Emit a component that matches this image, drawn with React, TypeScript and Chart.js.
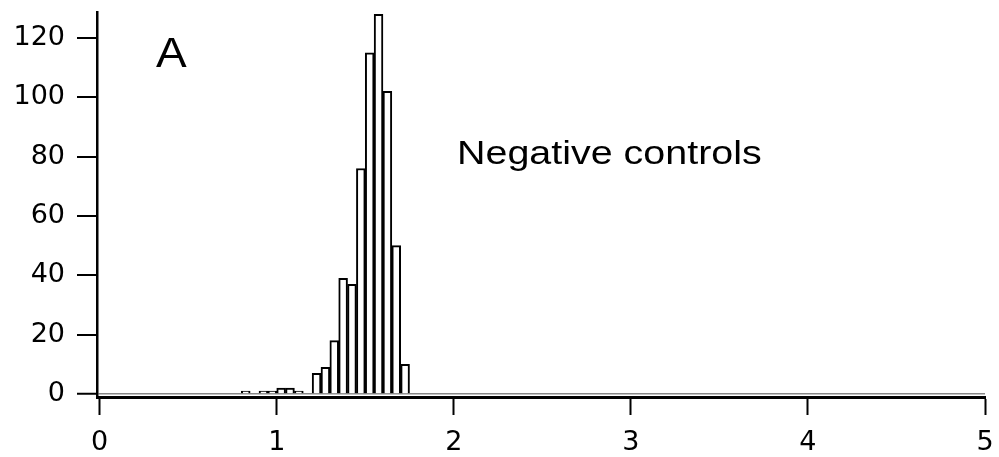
import React, { useEffect, useRef } from "react";
import { Chart, registerables } from "chart.js";

Chart.register(...registerables);

// Histogram bins (left edge of each 0.05-wide bin) and counts
const binStarts = [0.8, 0.85, 0.9, 0.95, 1.0, 1.05, 1.1, 1.15, 1.2, 1.25, 1.3, 1.35, 1.4, 1.45, 1.5, 1.55, 1.6, 1.65, 1.7];
const counts = [1, 0, 1, 1, 2, 2, 1, 0, 7, 9, 18, 39, 37, 76, 115, 128, 102, 50, 10];
const binWidth = 0.05;

const xTickValues = [0, 1, 2, 3, 4, 5];
const yTickValues = [0, 20, 40, 60, 80, 100, 120];

const panelLabel = "A";
const annotationText = "Negative controls";

const textPlugin = {
  id: "annotText",
  afterDraw(chart: any) {
    const ctx = chart.ctx;
    ctx.save();
    ctx.fillStyle = "#000";
    ctx.textBaseline = "alphabetic";
    ctx.textAlign = "left";
    ctx.save();
    ctx.translate(156, 67);
    ctx.scale(1.07, 1);
    ctx.font = "43px 'Liberation Sans', Arial, sans-serif";
    ctx.fillText(panelLabel, 0, 0);
    ctx.restore();
    ctx.save();
    ctx.translate(457, 164);
    ctx.scale(1.16, 1);
    ctx.font = "34px 'Liberation Sans', Arial, sans-serif";
    ctx.fillText(annotationText, 0, 0);
    ctx.restore();
    ctx.restore();
  },
};

export default function App() {
  const ref = useRef<HTMLCanvasElement>(null);

  useEffect(() => {
    if (!ref.current) return;
    const data = binStarts.map((s, i) => ({
      x: s + binWidth / 2,
      y: counts[i] > 0 ? counts[i] : null,
    }));
    const tickFont = { family: "'DejaVu Sans', sans-serif", size: 27 };
    const chart = new Chart(ref.current, {
      type: "bar",
      data: {
        datasets: [
          {
            data: data as any,
            backgroundColor: "#ffffff",
            borderColor: "#000000",
            borderWidth: 2,
            barPercentage: 1,
            categoryPercentage: 1,
          },
        ],
      },
      options: {
        animation: false,
        responsive: true,
        maintainAspectRatio: false,
        layout: { padding: { top: 12, right: 14, left: 0, bottom: 0 } },
        plugins: { legend: { display: false }, tooltip: { enabled: false } },
        scales: {
          x: {
            type: "linear",
            offset: false,
            min: -0.015,
            max: 5,
            afterBuildTicks: (scale: any) => {
              scale.ticks = xTickValues.map((v) => ({ value: v }));
            },
            afterFit: (scale: any) => {
              scale.height = 60;
              scale.paddingLeft = 0;
              scale.paddingRight = 0;
            },
            border: { display: true, color: "#000", width: 3 },
            grid: {
              offset: false,
              drawOnChartArea: false,
              drawTicks: true,
              tickLength: 18,
              tickWidth: 2,
              tickColor: "#000",
            },
            ticks: {
              color: "#000",
              font: tickFont,
              padding: 12,
              maxRotation: 0,
              callback: (v: any) => String(v),
            },
          },
          y: {
            type: "linear",
            min: -1.01,
            max: 128.75,
            afterBuildTicks: (scale: any) => {
              scale.ticks = yTickValues.map((v) => ({ value: v }));
            },
            afterFit: (scale: any) => {
              scale.width = 97;
              scale.paddingTop = 0;
              scale.paddingBottom = 0;
            },
            border: { display: true, color: "#000", width: 2.5 },
            grid: {
              drawOnChartArea: true,
              drawTicks: true,
              tickLength: 20,
              lineWidth: (c: any) => (c.tick && c.tick.value === 0 ? 1.5 : 0),
              color: (c: any) => (c.tick && c.tick.value === 0 ? "#888888" : "rgba(0,0,0,0)"),
              tickWidth: 2,
              tickColor: "#000",
            },
            ticks: {
              color: "#000",
              font: tickFont,
              padding: 12,
              callback: (v: any) => String(v),
            },
          },
        },
      },
      plugins: [textPlugin],
    });
    return () => chart.destroy();
  }, []);

  return (
    <div style={{ position: "absolute", left: 0, top: 0, width: 999, height: 457, background: "#fff" }}>
      <canvas ref={ref} />
    </div>
  );
}
